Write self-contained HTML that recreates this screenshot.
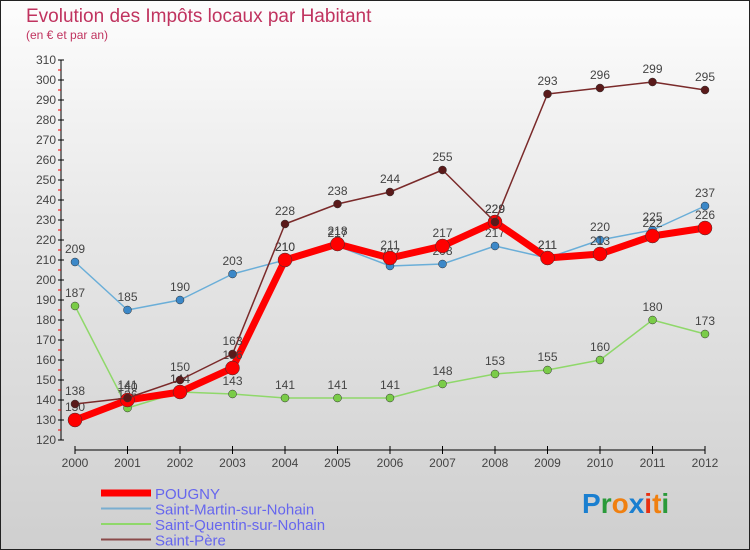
<!DOCTYPE html>
<html><head><meta charset="utf-8"><style>
body{margin:0}
#wrap{width:748px;height:548px;border:1px solid #222;background:linear-gradient(#fdfdfd,#e8e8e8 40%,#cfcfcf);position:relative;font-family:"Liberation Sans",sans-serif;overflow:hidden}
</style></head><body>
<div id="wrap">
<svg id="c" width="750" height="550" style="position:absolute;left:-1px;top:-1px">
<text x="26" y="22" font-size="19" fill="#c0335f">Evolution des Impôts locaux par Habitant</text>
<text x="26" y="39" font-size="12" fill="#c0335f">(en € et par an)</text>
<g id="axes"></g><g id="series"></g><g id="legend"></g>
<text x="582" y="513" font-size="28" font-weight="bold"><tspan fill="#1a7fd0">P</tspan><tspan fill="#2a9a3a">r</tspan><tspan fill="#f08010">o</tspan><tspan fill="#1a7fd0">x</tspan><tspan fill="#e83010">i</tspan><tspan fill="#f08010">t</tspan><tspan fill="#2a9a3a">i</tspan></text>
</svg></div>
<script>
const years=[2000,2001,2002,2003,2004,2005,2006,2007,2008,2009,2010,2011,2012];
const pougny=[130,140,144,156,210,218,211,217,229,211,213,222,226];
const stMartin=[209,185,190,203,210,217,207,208,217,211,220,225,237];
const stQuentin=[187,136,144,143,141,141,141,148,153,155,160,180,173];
const stPere=[138,141,150,163,228,238,244,255,229,293,296,299,295];
const yTicks=[120,130,140,150,160,170,180,190,200,210,220,230,240,250,260,270,280,290,300,310];
const NS="http://www.w3.org/2000/svg";
const x=i=>75+i*52.5, y=v=>440-(v-120)*2;
function mk(p,t,a){const e=document.createElementNS(NS,t);for(const k in a)e.setAttribute(k,a[k]);p.appendChild(e);return e;}
const ax=document.getElementById('axes');
let l=mk(ax,'line',{x1:61,y1:60,x2:61,y2:440,stroke:'#000'});


l=mk(ax,'line',{x1:75,y1:450,x2:705,y2:450,stroke:'#000'});


yTicks.forEach(v=>{mk(ax,'line',{x1:58,x2:64,y1:y(v),y2:y(v),stroke:'#000'});
 if(v<310)mk(ax,'line',{x1:58,x2:61,y1:y(v)-10,y2:y(v)-10,stroke:'#e00'});
 const t=mk(ax,'text',{x:56,y:y(v)+4,'font-size':12,fill:'#444','text-anchor':'end'});t.textContent=v;
 
 });
years.forEach((yr,i)=>{mk(ax,'line',{x1:x(i),x2:x(i),y1:446,y2:454,stroke:'#000'});
 const t=mk(ax,'text',{x:x(i),y:467,'font-size':12,fill:'#444','text-anchor':'middle'});t.textContent=yr;
 
 });
const S=document.getElementById('series');
const defs=[
 {d:stQuentin,c:'#8fd86a',m:'#7acc48',w:1.5,r:4,n:'saint-quentin'},
 {d:stMartin,c:'#6aaed8',m:'#3c88c8',w:1.5,r:4,n:'saint-martin'},
 {d:pougny,c:'#ff0000',m:'#ff0000',w:7,r:7,n:'pougny'},
 {d:stPere,c:'#7a2a2a',m:'#5a1a1a',w:1.5,r:4,n:'saint-pere'}];
defs.forEach(s=>{const g=mk(S,'g',{});
 
 
 const p=mk(g,'polyline',{points:s.d.map((v,i)=>x(i)+','+y(v)).join(' '),fill:'none',stroke:s.c,'stroke-width':s.w,'stroke-linejoin':'round'});
 s.d.forEach((v,i)=>{const c=mk(g,'circle',{cx:x(i),cy:y(v),r:s.r,fill:s.m,stroke:'#333','stroke-width':0.5});
  
  
  const t=mk(g,'text',{x:x(i),y:y(v)-9,'font-size':12,fill:'#444','text-anchor':'middle'});t.textContent=v;
  
  });});
const L=document.getElementById('legend');
[['POUGNY','#ff0000',7],['Saint-Martin-sur-Nohain','#7aaed0',2],['Saint-Quentin-sur-Nohain','#8fd86a',2],['Saint-Père','#8a4a4a',2]].forEach((e,i)=>{
 const yy=493+i*15.5;
 const ln=mk(L,'line',{x1:101,x2:151,y1:yy,y2:yy,stroke:e[1],'stroke-width':e[2]});
 
 
 const t=mk(L,'text',{x:155,y:yy+6,'font-size':15,fill:'#6666ee'});t.textContent=e[0];
 
 });
</script></body></html>
